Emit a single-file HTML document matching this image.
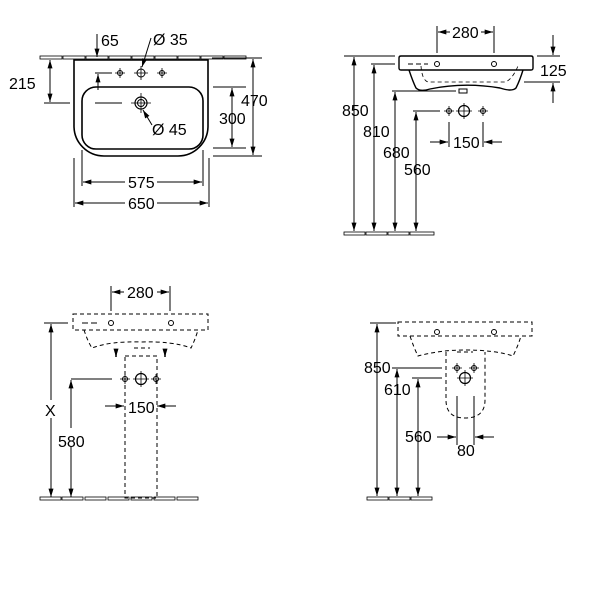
<!DOCTYPE html>
<html><head><meta charset="utf-8"><style>
html,body{margin:0;padding:0;background:#fff;width:600px;height:600px;overflow:hidden}
svg text{font-family:"Liberation Sans",Arial,sans-serif;font-size:16px;fill:#000}
</style></head><body>
<svg width="600" height="600" viewBox="0 0 600 600" xmlns="http://www.w3.org/2000/svg">
<defs>
<marker id="a" viewBox="0 0 10 6" refX="10" refY="3" markerWidth="9" markerHeight="5" orient="auto-start-reverse" markerUnits="userSpaceOnUse"><path d="M0,0L10,3L0,6z" fill="#000"/></marker>
<g id="tap"><circle r="2.5" fill="none" stroke="#000" stroke-width="1"/><path d="M-5,0H5M0,-5V5" stroke="#000" stroke-width="0.8"/></g>
<g id="big"><circle r="5.5" fill="none" stroke="#000" stroke-width="1.2"/><path d="M-8,0H8M0,-8V8" stroke="#000" stroke-width="0.8"/></g>
</defs>
<g fill="none" stroke="#000" stroke-width="1">
<!-- ===== TOP LEFT ===== -->
<g stroke-width="0.8">
<rect x="40" y="56" width="22" height="3"/><rect x="63" y="56" width="22" height="3"/><rect x="86" y="56" width="22" height="3"/><rect x="109" y="56" width="22" height="3"/><rect x="132" y="56" width="22" height="3"/><rect x="155" y="56" width="22" height="3"/><rect x="178" y="56" width="22" height="3"/><rect x="201" y="56" width="22" height="3"/><rect x="224" y="56" width="22" height="3"/>
</g>
<path d="M74,60 H208 V126 A30,30 0 0 1 178,156 H104 A30,30 0 0 1 74,126 Z" fill="#fff" stroke-width="1.6"/>
<rect x="82" y="87" width="121" height="62" rx="14" stroke-width="1.6"/>
<circle cx="141" cy="103" r="6" stroke-width="1.2"/><circle cx="141" cy="103" r="3.5"/>
<path d="M131,103H151M141,93V113" stroke-width="0.8"/>
<use href="#tap" x="120" y="73"/><use href="#tap" x="162" y="73"/>
<circle cx="141" cy="73" r="4"/><path d="M134,73H148M141,66V80" stroke-width="0.8"/>
<!-- dims top-left -->
<path d="M97,34V57" marker-end="url(#a)"/>
<path d="M151,38L142,67" marker-end="url(#a)"/>
<path d="M152,125L143,110" marker-end="url(#a)"/>
<path d="M50,60V102" marker-start="url(#a)" marker-end="url(#a)"/>
<path d="M44,103H70M95,103H122M95,73H112"/>
<path d="M98,90V74" marker-end="url(#a)"/>
<path d="M213,87H246M213,148H246M212,58H262M213,156H262"/>
<path d="M232,88V147" marker-start="url(#a)" marker-end="url(#a)"/>
<path d="M253,59V155" marker-start="url(#a)" marker-end="url(#a)"/>
<path d="M82,150V186M203,150V186M74,158V207M209,158V207"/>
<path d="M83,182H125" marker-start="url(#a)"/><path d="M202,182H157" marker-start="url(#a)"/>
<path d="M75,203H125" marker-start="url(#a)"/><path d="M208,203H157" marker-start="url(#a)"/>

<!-- ===== TOP RIGHT ===== -->
<g stroke-width="0.8">
<rect x="344" y="232" width="21" height="3"/><rect x="366" y="232" width="21" height="3"/><rect x="388" y="232" width="21" height="3"/><rect x="410" y="232" width="24" height="3"/>
</g>
<path d="M401,56 H531 Q533,56 533,58 V68 Q533,70 531,70 H401 Q399,70 399,68 V58 Q399,56 401,56Z" stroke-width="1.4"/>
<path d="M409,70 Q413,82 416,88 Q420,92 430,89 Q464,82 500,88 Q512,92 516,88 Q520,80 523,70" stroke-width="1.4"/>
<path d="M459,89h8v4h-8z"/>
<path d="M421,66Q422,80 428,82H505Q512,80 518,66" stroke-dasharray="4,3" stroke-width="0.8"/>
<path d="M408,64H428" stroke-dasharray="5,3"/>
<circle cx="437" cy="64" r="2.5"/><circle cx="494" cy="64" r="2.5"/>
<path d="M437,26V53M494,26V53"/>
<path d="M438,32H450" marker-start="url(#a)"/><path d="M493,32H481" marker-start="url(#a)"/>
<path d="M537,56H560M524,82H560"/>
<path d="M553,35V55" marker-end="url(#a)"/><path d="M553,103V83" marker-end="url(#a)"/>
<path d="M344,56H395M371,64H395M392,91H456M413,111H440"/>
<path d="M354,57V231" marker-start="url(#a)" marker-end="url(#a)"/>
<path d="M374,65V231" marker-start="url(#a)" marker-end="url(#a)"/>
<path d="M395,92V231" marker-start="url(#a)" marker-end="url(#a)"/>
<path d="M416,112V231" marker-start="url(#a)" marker-end="url(#a)"/>
<use href="#tap" x="449" y="111"/><use href="#big" x="464" y="111"/><use href="#tap" x="483" y="111"/>
<path d="M449,122V147M483,122V147"/>
<path d="M430,142H448" marker-end="url(#a)"/><path d="M502,142H484" marker-end="url(#a)"/>

<!-- ===== BOTTOM LEFT ===== -->
<g stroke-width="0.8">
<rect x="40" y="497" width="21" height="3"/><rect x="62" y="497" width="21" height="3"/><rect x="85" y="497" width="21" height="3"/><rect x="108" y="497" width="21" height="3"/><rect x="131" y="497" width="21" height="3"/><rect x="154" y="497" width="21" height="3"/><rect x="177" y="497" width="21" height="3"/>
</g>
<g stroke-dasharray="4,3" stroke-width="1">
<rect x="73" y="314" width="135" height="16"/>
<path d="M84,330Q88,342 92,348Q110,341 141,342Q172,341 191,348Q195,340 198,330"/>
<rect x="125" y="356" width="32" height="142"/>
<path d="M134,348H150"/>
</g>
<path d="M82,323H100" stroke-dasharray="6,3"/>
<circle cx="111" cy="323" r="2.5"/><circle cx="171" cy="323" r="2.5"/>
<path d="M111,286V311M170,286V311"/>
<path d="M112,292H124" marker-start="url(#a)"/><path d="M169,292H157" marker-start="url(#a)"/>
<path d="M116,349V357" marker-end="url(#a)" stroke-width="1.5"/><path d="M165,349V357" marker-end="url(#a)" stroke-width="1.5"/>
<use href="#tap" x="125" y="379"/><use href="#big" x="141" y="379"/><use href="#tap" x="156" y="379"/>
<path d="M44,323H68M71,379H112"/>
<path d="M51,324V400" marker-start="url(#a)"/><path d="M51,418V497" marker-end="url(#a)"/>
<path d="M71,380V428" marker-start="url(#a)"/><path d="M71,446V497" marker-end="url(#a)"/>
<path d="M105,406H124" marker-end="url(#a)"/><path d="M176,406H157" marker-end="url(#a)"/>

<!-- ===== BOTTOM RIGHT ===== -->
<g stroke-width="0.8">
<rect x="367" y="497" width="21" height="3"/><rect x="389" y="497" width="21" height="3"/><rect x="411" y="497" width="21" height="3"/>
</g>
<g stroke-dasharray="4,3" stroke-width="1">
<rect x="398" y="322" width="134" height="14"/>
<path d="M410,336Q414,348 418,356Q440,350 465,350Q495,350 513,356Q518,346 521,336"/>
<path d="M446,352V400Q446,418 465,418Q485,418 485,400V352"/>
<path d="M457,352H473"/>
</g>
<circle cx="437" cy="332" r="2.5"/><circle cx="494" cy="332" r="2.5"/>
<use href="#tap" x="457" y="368"/><use href="#tap" x="474" y="368"/><use href="#big" x="465" y="378"/>
<path d="M457,396V445M474,396V445"/>
<path d="M437,437H456" marker-end="url(#a)"/><path d="M494,437H475" marker-end="url(#a)"/>
<path d="M370,323H396M392,368H442M412,378H442"/>
<path d="M377,324V496" marker-start="url(#a)" marker-end="url(#a)"/>
<path d="M397,369V496" marker-start="url(#a)" marker-end="url(#a)"/>
<path d="M418,379V496" marker-start="url(#a)" marker-end="url(#a)"/>
</g>
<!-- text -->
<g>
<text x="101" y="46">65</text>
<text x="153" y="45">Ø 35</text>
<text x="152" y="135">Ø 45</text>
<text x="9" y="89">215</text>
<text x="219" y="124">300</text>
<text x="241" y="106">470</text>
<text x="128" y="188">575</text>
<text x="128" y="209">650</text>

<text x="452" y="38">280</text>
<text x="540" y="76">125</text>
<text x="342" y="116">850</text>
<text x="363" y="137">810</text>
<text x="383" y="158">680</text>
<text x="404" y="175">560</text>
<text x="453" y="148">150</text>

<text x="127" y="298">280</text>
<text x="45" y="416">X</text>
<text x="58" y="447">580</text>
<text x="128" y="413">150</text>

<text x="364" y="373">850</text>
<text x="384" y="395">610</text>
<text x="405" y="442">560</text>
<text x="457" y="456">80</text>
</g>
</svg>
</body></html>
